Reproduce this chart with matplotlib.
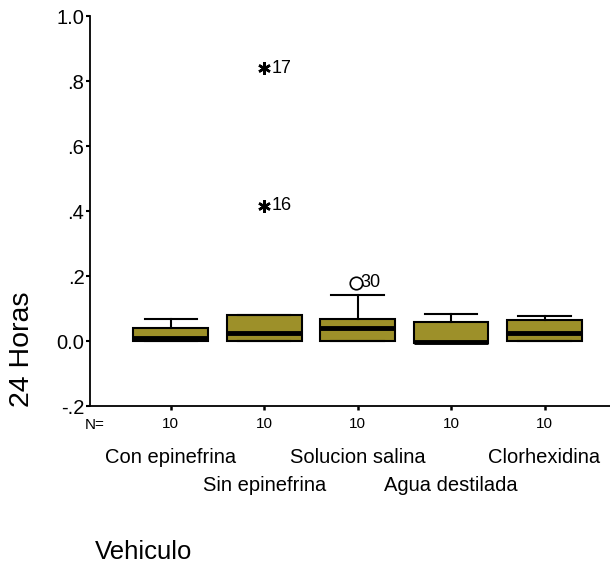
import matplotlib.pyplot as plt
import numpy as np

plt.rcParams['font.family'] = ['Liberation Sans', 'DejaVu Sans']

groups = ['Con epinefrina', 'Sin epinefrina', 'Solucion salina', 'Agua destilada', 'Clorhexidina']
n_counts = [10, 10, 10, 10, 10]
q1 = [0.0, 0.0, 0.0, -0.005, 0.0]
med = [0.008, 0.025, 0.039, -0.002, 0.025]
q3 = [0.039, 0.079, 0.068, 0.059, 0.065]
whislo = [0.0, 0.0, 0.0, -0.005, 0.0]
whishi = [0.069, 0.079, 0.142, 0.084, 0.078]
# extreme (*) and outlier (o) cases: group index, value, case number
extremes = [(2, 0.839, '17'), (2, 0.416, '16')]
outliers = [(3, 0.18, '30')]

box_color = '#9d9029'

fig = plt.figure(figsize=(6.1, 5.68), dpi=100)
ax = fig.add_axes([0.1475, 0.2852, 0.86, 0.6866])

stats = []
for i in range(len(groups)):
    stats.append({'q1': q1[i], 'med': med[i], 'q3': q3[i],
                  'whislo': whislo[i], 'whishi': whishi[i], 'fliers': []})
pos = np.arange(1, len(groups) + 1)
ax.bxp(stats, positions=pos, widths=0.8, capwidths=0.56, showfliers=False,
       patch_artist=True,
       boxprops=dict(facecolor=box_color, edgecolor='black', linewidth=1.5),
       medianprops=dict(color='black', linewidth=3.5),
       whiskerprops=dict(color='black', linewidth=1.5),
       capprops=dict(color='black', linewidth=1.5))

for g, v, lab in extremes:
    ax.plot(g, v, marker=(6, 2, 0), color='black', markersize=9, markeredgewidth=1.8)
    ax.annotate(lab, (g, v), xytext=(5, 0), textcoords='offset points',
                va='center', ha='left', fontsize=13)
for g, v, lab in outliers:
    ax.plot(g - 0.02, v, marker='o', mfc='none', mec='black', markersize=9, markeredgewidth=1.2)
    ax.annotate(lab, (g, v), xytext=(2, 0), textcoords='offset points',
                va='center', ha='left', fontsize=13)

ax.set_xlim(0.135, 5.75)
ax.set_ylim(-0.2, 1.0)
ax.set_yticks([-0.2, 0.0, 0.2, 0.4, 0.6, 0.8, 1.0])
ax.set_yticklabels(['-.2', '0.0', '.2', '.4', '.6', '.8', '1.0'], fontsize=14.5)
ax.set_xticks(pos)
ax.set_xticklabels([str(n) for n in n_counts], fontsize=11)
ax.tick_params(axis='y', length=3, width=1.5, pad=1)
ax.tick_params(axis='x', length=3, width=1.8, pad=5)
ax.spines['top'].set_visible(False)
ax.spines['right'].set_visible(False)
ax.spines['left'].set_linewidth(1.3)
ax.spines['bottom'].set_linewidth(1.3)

trans = ax.get_xaxis_transform()
ax.text(0.19, -0.048, 'N=', transform=trans, ha='center', va='center', fontsize=11)
for i, name in enumerate(groups):
    y = -0.133 if i % 2 == 0 else -0.203
    ax.text(pos[i], y, name, transform=trans, ha='center', va='center', fontsize=14.5)

fig.text(0.156, 0.028, 'Vehiculo', ha='left', va='center', fontsize=18.5)
fig.text(0.036, 0.386, '24 Horas', ha='center', va='center', rotation=90, fontsize=20.5)

fig.savefig('out.png', dpi=100)
